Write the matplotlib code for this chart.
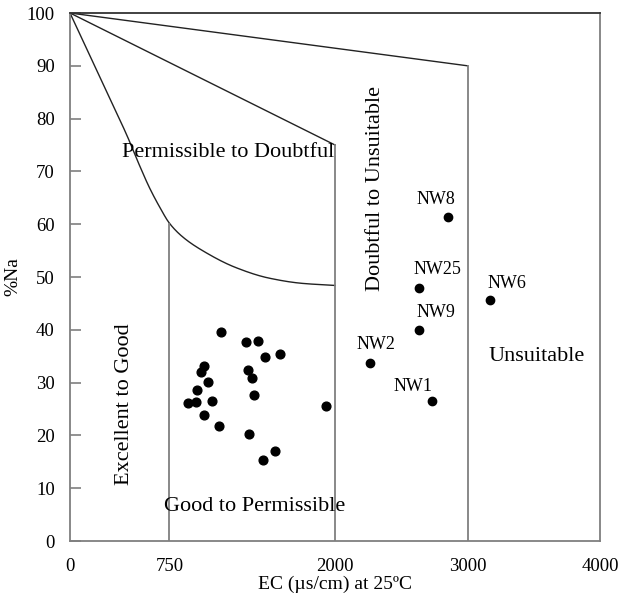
import matplotlib
matplotlib.use("Agg")
import matplotlib.pyplot as plt
import numpy as np

plt.rcParams['font.family'] = ['Liberation Serif', 'DejaVu Serif']

# Sample data (EC in µS/cm, %Na)
ec_unlabeled = [1137, 1328, 1421, 1472, 1587, 1011, 986, 1343, 1376, 1044, 956,
                1386, 888, 951, 1072, 1929, 1009, 1127, 1353, 1550, 1457]
na_unlabeled = [39.6, 37.6, 37.9, 34.8, 35.5, 33.1, 32.1, 32.4, 30.9, 30.1, 28.6,
                27.7, 26.1, 26.3, 26.5, 25.6, 23.8, 21.8, 20.3, 17.0, 15.3]

labels = ["NW8", "NW25", "NW9", "NW2", "NW1", "NW6"]
ec_labeled = [2850, 2636, 2636, 2262, 2734, 3170]
na_labeled = [61.4, 47.9, 39.9, 33.8, 26.5, 45.6]
label_offsets_px = [(-12, 17), (18, 19), (17, 18), (6, 18), (-19, 15), (17, 17)]

# Wilcox boundary curve (Good to Permissible / Permissible to Doubtful)
curve_ec = [0, 150, 300, 430, 520, 600, 680, 750, 850, 1000, 1250, 1500, 1750, 2000]
curve_na = [100, 91.9, 83.8, 76.8, 71.4, 66.9, 63.1, 60.2, 57.6, 55.0, 51.8, 49.8, 48.8, 48.4]

xticks = [0, 750, 2000, 3000, 4000]
yticks = list(range(0, 101, 10))


def pchip(xs, ys, n=400):
    # monotone cubic rendering of the boundary through the read points
    x = np.asarray(xs, float)
    y = np.asarray(ys, float)
    h = np.diff(x)
    d = np.diff(y) / h
    m = np.zeros_like(x)
    for k in range(1, len(x) - 1):
        if d[k - 1] * d[k] > 0:
            w1 = 2 * h[k] + h[k - 1]
            w2 = h[k] + 2 * h[k - 1]
            m[k] = (w1 + w2) / (w1 / d[k - 1] + w2 / d[k])
    m[0] = d[0]
    m[-1] = d[-1]
    xx = np.linspace(x[0], x[-1], n)
    idx = np.clip(np.searchsorted(x, xx) - 1, 0, len(x) - 2)
    t = (xx - x[idx]) / h[idx]
    h00 = 2 * t**3 - 3 * t**2 + 1
    h10 = t**3 - 2 * t**2 + t
    h01 = -2 * t**3 + 3 * t**2
    h11 = t**3 - t**2
    yy = h00 * y[idx] + h10 * h[idx] * m[idx] + h01 * y[idx + 1] + h11 * h[idx] * m[idx + 1]
    return xx, yy


fig = plt.figure(figsize=(6.24, 6.0), dpi=100)
ax = fig.add_axes([70/624, 1-541/600, 530/624, 528/600])
ax.set_xlim(0, 4000)
ax.set_ylim(0, 100)

gray = '#7f7f7f'
for s in ax.spines.values():
    s.set_color(gray)
    s.set_linewidth(1.3)
ax.spines['top'].set_color('#333333')

# boundaries
cx, cy = pchip(curve_ec, curve_na)
ax.plot(cx, cy, color='#222222', lw=1.0)
ax.plot([0, 2000], [100, 75], color='#222222', lw=1.0)
ax.plot([0, 3000], [100, 90], color='#222222', lw=1.0)
ax.plot([750, 750], [0, 60], color=gray, lw=1.3)
ax.plot([2000, 2000], [0, 75], color=gray, lw=1.3)
ax.plot([3000, 3000], [0, 90], color=gray, lw=1.3)

ax.plot(ec_unlabeled, na_unlabeled, 'o', color='black', ms=6.3, ls='none')
ax.plot(ec_labeled, na_labeled, 'o', color='black', ms=6.0, ls='none')
for lab, x, y, off in zip(labels, ec_labeled, na_labeled, label_offsets_px):
    ax.annotate(lab, (x, y), xytext=off, textcoords='offset pixels',
                ha='center', va='center', fontsize=13)

fs = 16
ax.text(1196, 73.5, "Permissible to Doubtful", ha='center', va='center', fontsize=fs)
ax.text(2307, 66.7, "Doubtful to Unsuitable", ha='center', va='center', fontsize=fs, rotation=90)
ax.text(408, 26, "Excellent to Good", ha='center', va='center', fontsize=fs, rotation=90)
ax.text(1396, 6.5, "Good to Permissible", ha='center', va='center', fontsize=fs)
ax.text(3525, 35, "Unsuitable", ha='center', va='center', fontsize=fs)

ax.set_xticks(xticks)
ax.set_xticklabels([str(t) for t in xticks], fontsize=13.5)
ax.set_yticks(yticks)
ax.set_yticklabels([str(t) for t in yticks], fontsize=13.5)
ax.tick_params(axis='x', length=0, pad=12)
ax.tick_params(axis='y', direction='in', length=8, color=gray, width=1.2, pad=11)

ax.set_xlabel("EC (µs/cm) at 25ºC", fontsize=14, labelpad=1)
ax.set_ylabel("%Na", fontsize=14, labelpad=4)

fig.savefig("out.png", dpi=100)
